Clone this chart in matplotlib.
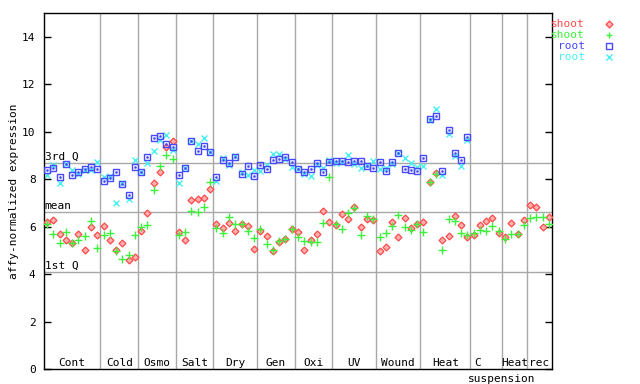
import numpy as np
import matplotlib
matplotlib.use("Agg")
import matplotlib.pyplot as plt

# expression values per sample (index along x)
shoot_a = [6.19, 6.29, 5.68, 5.43, 5.30, 5.68, 5.02, 5.99, 5.64,
           6.02, 5.43, 5.01, 5.30, 4.59, 4.71,
           5.83, 6.57, 7.84, 8.30, 9.36, 9.61,
           5.77, 5.43, 7.13, 7.16, 7.20, 7.58,
           6.11, 5.94, 6.15, 5.83, 6.11, 6.02, 5.05,
           5.81, 5.60, 4.97, 5.35, 5.47, 5.90,
           5.78, 5.01, 5.43, 5.68, 6.66, 6.19,
           6.06, 6.53, 6.32, 6.82, 5.98, 6.32, 6.28,
           4.97, 5.14, 6.19, 5.56, 6.36, 5.94, 6.11,
           6.19, 7.88, 8.26, 5.43, 5.60, 6.44, 6.06, 5.56,
           5.64, 6.06, 6.23, 6.36, 5.73,
           5.56, 6.15, 5.68, 6.28,
           6.91, 6.82, 5.98, 6.40]
shoot_b = [6.11, 5.68, 5.30, 5.77, 5.30, 5.43, 5.60, 6.23, 5.09,
           5.64, 5.73, 4.97, 4.63, 4.80, 5.64,
           5.98, 6.06, 7.54, 8.55, 9.00, 8.85,
           5.64, 5.77, 6.64, 6.60, 6.82, 7.88,
           5.94, 5.73, 6.40, 6.11, 6.11, 5.81, 5.52,
           5.90, 5.26, 5.01, 5.39, 5.47, 5.90,
           5.56, 5.39, 5.35, 5.35, 6.16, 8.09,
           6.11, 5.90, 6.57, 6.78, 5.64, 6.44, 6.32,
           5.56, 5.73, 6.02, 6.49, 5.98, 5.85, 6.11,
           5.77, 7.88, 8.22, 5.01, 6.32, 6.23, 5.73, 5.64,
           5.73, 5.85, 5.81, 6.02, 5.81,
           5.47, 5.68, 5.68, 6.06,
           6.36, 6.40, 6.40, 6.11]
root_a = [8.40, 8.48, 8.10, 8.63, 8.18, 8.30, 8.41, 8.51, 8.44,
          7.92, 8.06, 8.30, 7.78, 7.34, 8.53,
          8.29, 8.93, 9.74, 9.82, 9.48, 9.36,
          8.18, 8.46, 9.60, 9.20, 9.40, 9.13,
          8.09, 8.79, 8.67, 8.92, 8.22, 8.57, 8.13,
          8.60, 8.43, 8.81, 8.86, 8.93, 8.72,
          8.41, 8.29, 8.43, 8.67, 8.30, 8.72,
          8.75, 8.75, 8.72, 8.77, 8.77, 8.57, 8.48,
          8.72, 8.34, 8.72, 9.10, 8.43, 8.38, 8.34,
          8.89, 10.52, 10.67, 8.34, 10.07, 9.12, 8.81, 9.78]
root_b = [8.19, 8.60, 7.84, 8.63, 8.40, 8.22, 8.40, 8.37, 8.72,
          8.09, 8.12, 7.01, 7.84, 7.18, 8.81,
          8.29, 8.68, 9.20, 9.65, 9.86, 9.22,
          7.84, 8.46, 9.60, 9.48, 9.74, 9.13,
          7.92, 8.89, 8.60, 8.96, 8.29, 8.18, 8.37,
          8.34, 8.60, 9.06, 9.06, 8.86, 8.51,
          8.43, 8.22, 8.13, 8.60, 8.46, 8.82,
          8.68, 8.72, 9.02, 8.65, 8.47, 8.60, 8.78,
          8.41, 8.48, 8.63, 9.10, 8.89, 8.68, 8.51,
          8.57, 10.50, 10.96, 8.18, 9.91, 8.98, 8.55, 9.65]

groups = ["Cont", "Cold", "Osmo", "Salt", "Dry", "Gen", "Oxi", "UV",
          "Wound", "Heat", "C", "Heat", "rec"]
group_sizes = [9, 6, 6, 6, 7, 6, 6, 7, 7, 8, 5, 4, 4]
q1, mean, q3 = 4.09, 6.62, 8.69

RED, GREEN, BLUE, CYAN = "#ff4a4a", "#3cf03c", "#4848ff", "#48f0f0"
GRAY = "#a8a8a8"
FONT = "DejaVu Sans Mono"

fig = plt.figure(figsize=(6.4, 3.84), dpi=100)
ax = fig.add_axes([44 / 640, 1 - 369 / 384, 508 / 640, 356 / 384])

n = len(shoot_a)
ax.set_xlim(-0.5, n - 0.5)
ax.set_ylim(0, 15)

# group separators and labels
edges = np.cumsum(group_sizes) - 0.5
for e in edges[:-1]:
    ax.axvline(e, color=GRAY, lw=1, zorder=1)
starts = np.concatenate([[-0.5], edges[:-1]])
for g, s, e in zip(groups, starts, edges):
    cx = (s + e) / 2
    if g == "C":
        cx = s + 1.2
    ax.text(cx, 0.05, g, ha="center", va="bottom", fontsize=8, family=FONT)
ax.text(72.5, -0.2, "suspension", ha="center", va="top", fontsize=8,
        family=FONT, clip_on=False)

# quartile / mean lines
for val, lab in [(q3, "3rd Q"), (mean, "mean"), (q1, "1st Q")]:
    ax.axhline(val, color=GRAY, lw=1, zorder=1)
    ax.text(-0.4, val + 0.05, lab, ha="left", va="bottom", fontsize=8, family=FONT)

xs = np.arange(n)
xr = np.arange(len(root_a))
ax.plot(xs, shoot_a, ls="none", marker="D", ms=3.5, mfc="#ffb0b0", mec=RED, mew=0.9, zorder=3)
ax.plot(xs, shoot_b, ls="none", marker="+", ms=6, color=GREEN, mew=1, zorder=3)
ax.plot(xr, root_a, ls="none", marker="s", ms=4.5, mfc="none", mec=BLUE, mew=1, zorder=3)
ax.plot(xr, root_a, ls="none", marker="s", ms=0.8, color=BLUE, zorder=3)
ax.plot(xr, root_b, ls="none", marker="x", ms=4.5, color=CYAN, mew=1, zorder=2)

ax.set_xticks([])
ax.set_yticks(range(0, 15, 2))
ax.tick_params(axis="y", direction="in", length=5, width=1, right=True,
               labelsize=8, pad=6)
for lbl in ax.get_yticklabels():
    lbl.set_family(FONT)
for sp in ax.spines.values():
    sp.set_linewidth(1)
ax.set_ylabel("affy-normalized expression", fontsize=8, family=FONT, labelpad=2)

# legend outside the plot, top right
legend = [("shoot", RED, "D"), ("shoot", GREEN, "+"), ("root", BLUE, "s"), ("root", CYAN, "x")]
for k, (lab, col, mk) in enumerate(legend):
    y = 1 - (24 + 11 * k) / 384
    fig.text(585 / 640, y, lab, color=col, ha="right", va="center", fontsize=8, family=FONT)
    if mk == "D":
        fig.lines.append(plt.Line2D([609 / 640], [y], marker="D", ms=3.5, mfc="#ffb0b0",
                                    mec=col, mew=0.9, transform=fig.transFigure))
    elif mk == "s":
        fig.lines.append(plt.Line2D([609 / 640], [y], marker="s", ms=4.5, mfc="none",
                                    mec=col, mew=1, transform=fig.transFigure))
    else:
        fig.lines.append(plt.Line2D([609 / 640], [y], marker=mk, ms=5, color=col,
                                    mew=1, transform=fig.transFigure))

fig.savefig("out.png", dpi=100)
